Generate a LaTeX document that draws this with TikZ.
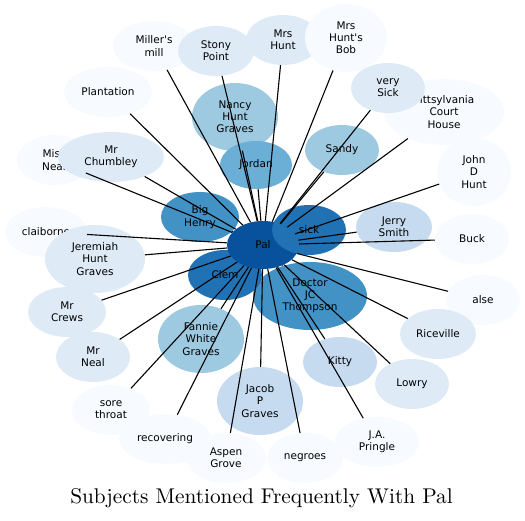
\documentclass[tikz,border=0pt]{standalone}
\usepackage{fontspec}
\usetikzlibrary{shapes.geometric}
\newfontfamily\dejavu[Ligatures=TeXOff]{DejaVu Sans}
\newfontfamily\titlefont{lmroman10-regular.otf}
\newcommand\lblfont{\dejavu\fontsize{10.5}{12.2}\selectfont}
\definecolor{ca}{HTML}{F7FBFF}
\definecolor{cb}{HTML}{DEEBF7}
\definecolor{cc}{HTML}{C6DBEF}
\definecolor{cd}{HTML}{9ECAE1}
\definecolor{ce}{HTML}{6BAED6}
\definecolor{cf}{HTML}{4292C6}
\definecolor{cg}{HTML}{2171B5}
\definecolor{ch}{HTML}{08519C}
\tikzset{
  bub/.style={ellipse, inner sep=0pt, align=center, font=\lblfont, text=black},
  sm/.style={minimum width=74pt, minimum height=50pt},
  tall/.style={minimum height=68pt},
  link/.style={line width=1.1pt, black}
}
\begin{document}
\begin{tikzpicture}[x=1pt,y=-1pt]
\useasboundingbox (0,0) rectangle (525,520);
% lowest layer
\node[bub, sm, fill=cb] (mrshunt) at (283,40) {Mrs\\Hunt};
% lightest
\node[bub, fill=ca, minimum width=82pt, minimum height=50pt] (miller) at (154,46) {Miller's\\mill};
\node[bub, fill=ca, minimum width=82pt, tall] (bob) at (346,38) {Mrs\\Hunt's\\Bob};
\node[bub, fill=ca, minimum width=120pt, minimum height=66pt] (pitt) at (444,112) {Pittsylvania\\Court\\House};
\node[bub, fill=ca, minimum width=74pt, tall] (john) at (474,172) {John\\D\\Hunt};
\node[bub, sm, fill=ca] (buck) at (472,239) {Buck};
\node[bub, sm, fill=ca] (alse) at (483,300) {alse};
\node[bub, fill=ca, minimum width=84pt, minimum height=50pt] (pringle) at (377,442) {J.A.\\Pringle};
\node[bub, fill=ca, minimum width=76pt, minimum height=50pt] (negroes) at (305,458) {negroes};
\node[bub, fill=ca, minimum width=92pt, minimum height=50pt] (recov) at (165,439) {recovering};
\node[bub, fill=ca, minimum width=78pt, minimum height=50pt] (sore) at (111,410) {sore\\throat};
\node[bub, fill=ca, minimum width=80pt, minimum height=50pt] (aspen) at (226,458) {Aspen\\Grove};
\node[bub, fill=ca, minimum width=82pt, minimum height=50pt] (claib) at (46,232) {claiborne};
\node[bub, sm, fill=ca] (missneal) at (54,160) {Miss\\Neal};
\node[bub, fill=ca, minimum width=88pt, minimum height=50pt] (plant) at (108,92) {Plantation};
% second
\node[bub, fill=cb, minimum width=76pt, minimum height=50pt] (stony) at (216,51) {Stony\\Point};
\node[bub, sm, fill=cb] (verysick) at (388,88) {very\\Sick};
\node[bub, fill=cb, minimum width=106pt, minimum height=50pt] (chumb) at (111,157) {Mr\\Chumbley};
\node[bub, fill=cb, minimum width=100pt, tall] (jer) at (95,259) {Jeremiah\\Hunt\\Graves};
\node[bub, fill=cb, minimum width=78pt, minimum height=50pt] (crews) at (67,312) {Mr\\Crews};
\node[bub, sm, fill=cb] (mrneal) at (93,357) {Mr\\Neal};
\node[bub, fill=cb, minimum width=76pt, minimum height=50pt] (rice) at (438,334) {Riceville};
\node[bub, sm, fill=cb] (lowry) at (412,384) {Lowry};
% third
\node[bub, fill=cc, minimum width=76pt, minimum height=50pt] (jerry) at (394,227) {Jerry\\Smith};
\node[bub, sm, fill=cc] (kitty) at (340,362) {Kitty};
\node[bub, fill=cc, minimum width=86pt, tall] (jacob) at (260,401) {Jacob\\P\\Graves};
% fourth
\node[bub, fill=cd, minimum width=86pt, tall] (nancy) at (235,117) {Nancy\\Hunt\\Graves};
\node[bub, sm, fill=cd] (sandy) at (342,150) {Sandy};
\node[bub, fill=cd, minimum width=86pt, tall] (fannie) at (201,339) {Fannie\\White\\Graves};
% fifth
\node[bub, fill=ce, minimum width=72pt, minimum height=48pt] (jordan) at (256,165) {Jordan};
% sixth
\node[bub, fill=cf, minimum width=78pt, minimum height=50pt] (henry) at (200,217) {Big\\Henry};
\node[bub, fill=cf, minimum width=114pt, tall] (doctor) at (310,296) {Doctor\\JC\\Thompson};
% darkest
\node[bub, sm, fill=cg] (clem) at (225,275) {Clem};
\node[bub, fill=ch, minimum width=72pt, minimum height=48pt] (pal) at (263,245) {Pal};
\node[bub, sm, fill=cg] (sick) at (309,230) {sick};
% connectors
\foreach \t in {mrshunt,miller,bob,pitt,john,buck,alse,pringle,negroes,recov,sore,aspen,claib,missneal,plant,stony,verysick,chumb,jer,crews,mrneal,rice,lowry,jerry,kitty,jacob,nancy,sandy,fannie,jordan,henry,doctor}
  \draw[link] (pal) -- (\t);
% title
\node[anchor=base, font=\titlefont\fontsize{21.3}{25}\selectfont] (title) at (261.5,503) {Subjects Mentioned Frequently With Pal};
\end{tikzpicture}
\end{document}
